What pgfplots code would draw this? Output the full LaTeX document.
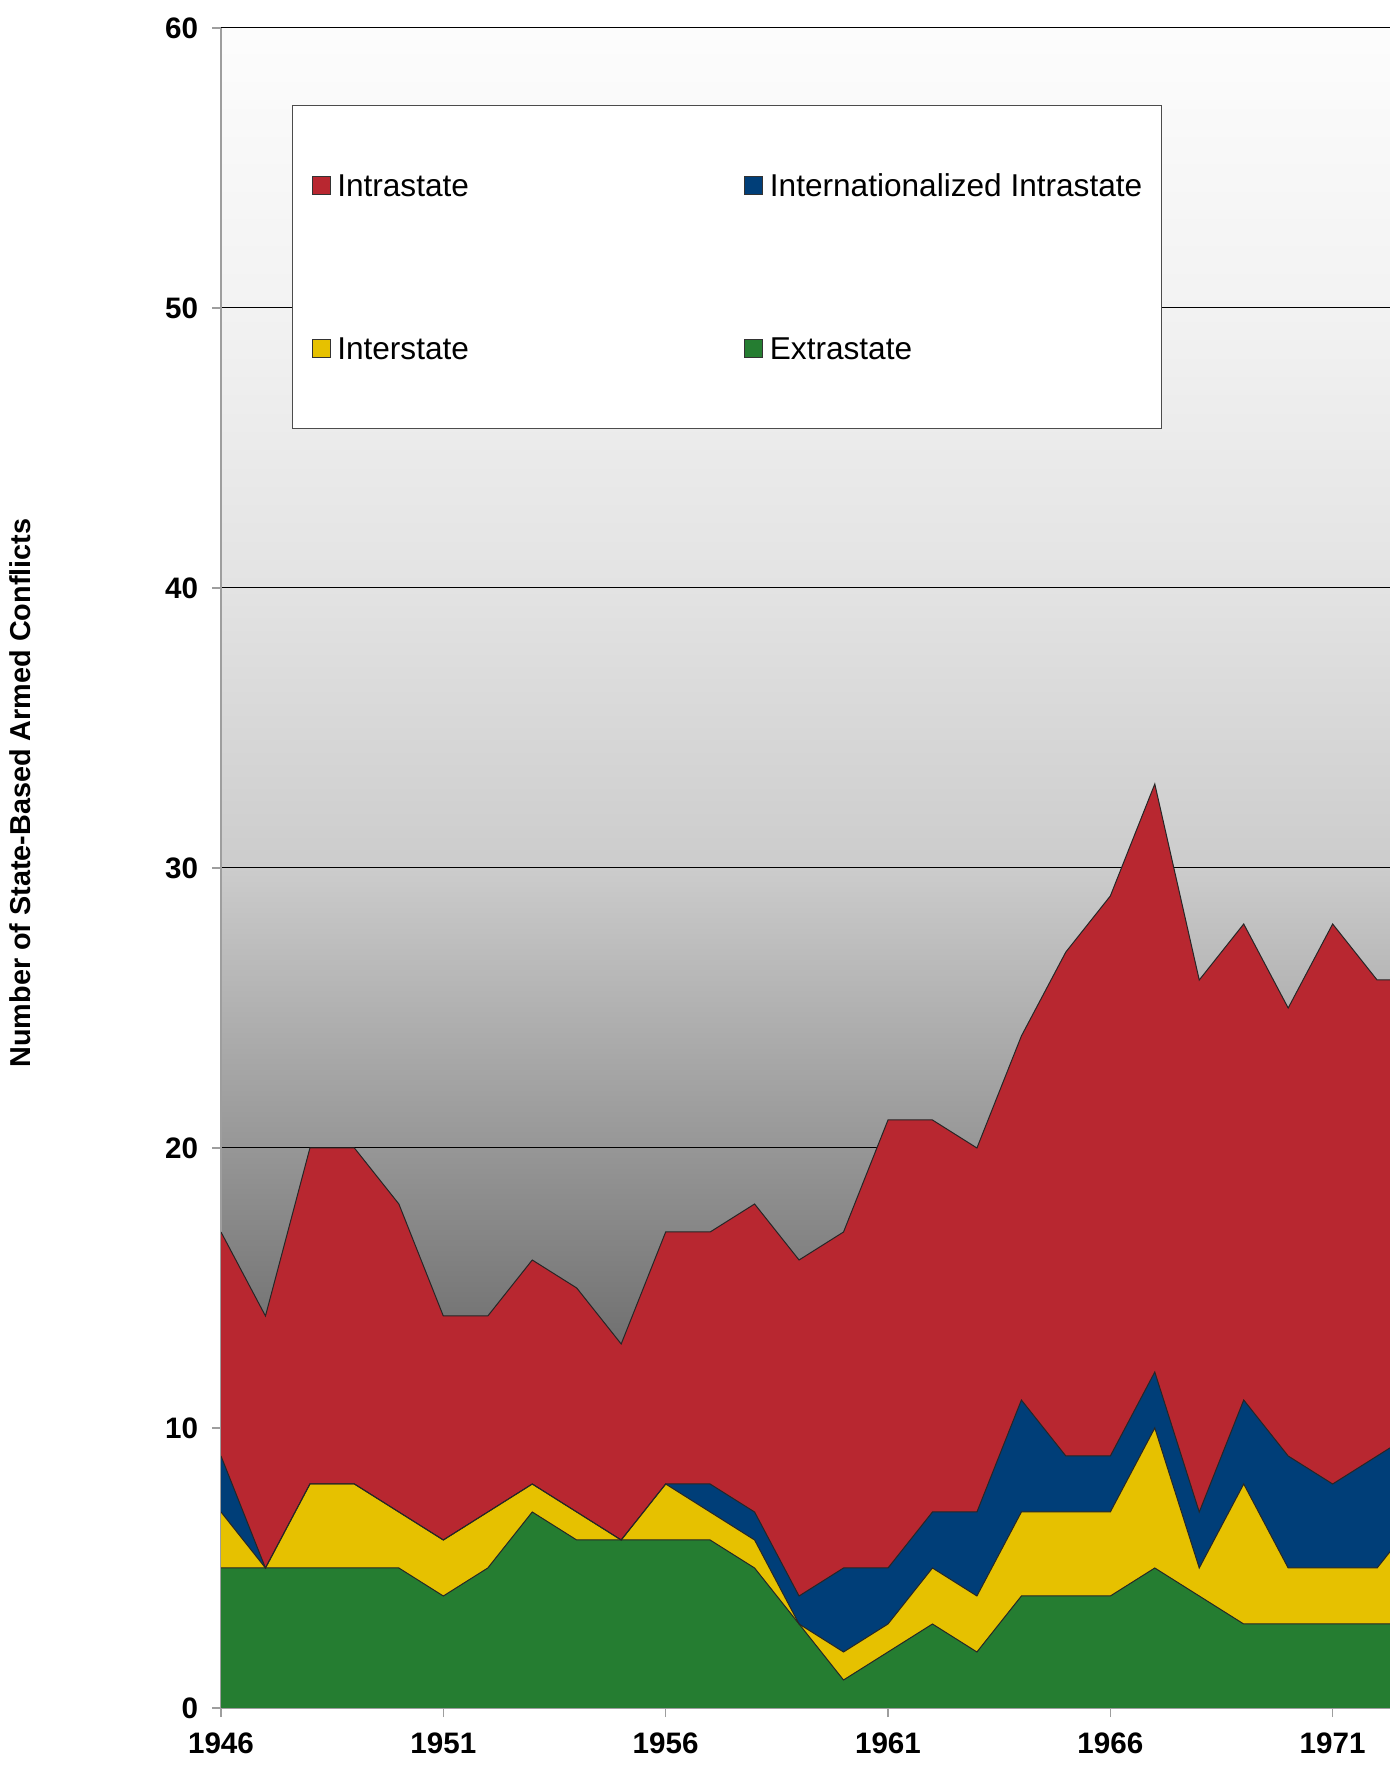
\documentclass[border=0pt]{standalone}
\usepackage{pgfplots}
\pgfplotsset{compat=1.18}
\usepackage{pgfplotstable}
\usepackage{fontspec}
\setmainfont{Liberation Sans}
\definecolor{cIntra}{RGB}{184,39,48}
\definecolor{cIntl}{RGB}{0,62,120}
\definecolor{cInter}{RGB}{230,193,0}
\definecolor{cExtra}{RGB}{37,125,49}
\pgfdeclareverticalshading{bgshade}{100bp}{color(0bp)=(black!70); color(25bp)=(black!70); color(35.83bp)=(black!56); color(41.67bp)=(black!41); color(50bp)=(black!20); color(58.33bp)=(black!11); color(66.67bp)=(black!5); color(75bp)=(black!1); color(100bp)=(black!1)}
\pgfplotsset{layers/mylayers/.define layer set={axis background,axis grid,main,axis ticks,axis lines,axis tick labels,axis descriptions,axis foreground}{}}
% cumulative tops: G = Extrastate, Y = +Interstate, B = +Internationalized, R = +Intrastate (total)
\pgfplotstableread{
year G Y B R
1946 5 7 9 17
1947 5 5 5 14
1948 5 8 8 20
1949 5 8 8 20
1950 5 7 7 18
1951 4 6 6 14
1952 5 7 7 14
1953 7 8 8 16
1954 6 7 7 15
1955 6 6 6 13
1956 6 8 8 17
1957 6 7 8 17
1958 5 6 7 18
1959 3 3 4 16
1960 1 2 5 17
1961 2 3 5 21
1962 3 5 7 21
1963 2 4 7 20
1964 4 7 11 24
1965 4 7 9 27
1966 4 7 9 29
1967 5 10 12 33
1968 4 5 7 26
1969 3 8 11 28
1970 3 5 9 25
1971 3 5 8 28
1972 3 5 9 26
1973 3 7 10 26
}\data
\begin{document}
\begin{tikzpicture}
\begin{axis}[
  at={(0,0)}, anchor=south west,
  width=584.5pt, height=840pt, scale only axis,
  xmin=1946, xmax=1972.29, ymin=0, ymax=60,
  axis lines*=left,
  axis line style={draw=black!38, line width=0.6pt},
  xtick={1946,1951,...,1971}, ytick={0,10,...,60},
  tick align=outside, major tick length=4.5pt,
  tick style={draw=black!38, line width=0.6pt},
  ymajorgrids, grid style={black, line width=0.5pt},
  /pgf/number format/1000 sep={},
  /pgf/number format/assume math mode=true,
  ticklabel style={font=\fontsize{14.8}{17}\selectfont\bfseries},
  yticklabel style={xshift=-3.4pt},
  xticklabel style={yshift=-4.5pt},
  ylabel={Number of State-Based Armed Conflicts},
  ylabel style={font=\fontsize{14.4}{17}\selectfont\bfseries, at={(axis description cs:-0.1719,0.5446)}, anchor=center},
  axis background/.style={shade, shading=bgshade},
  set layers=mylayers,
  legend columns=2,
  legend cell align=left,
  legend image code/.code={\draw[#1,draw=black!80,line width=0.5pt] (0pt,-4.5pt) rectangle (9pt,4.5pt);},
  legend style={at={(0.0607,0.9542)}, anchor=north west, draw=black!70, line width=0.6pt, fill=white,
    inner xsep=9.5pt, inner ysep=32.5pt, row sep=66.5pt, column sep=3.35pt,
    /tikz/every even column/.append style={column sep=137.6pt},
    font=\fontsize{15.8}{19}\selectfont,
    nodes={inner sep=0pt, text height=13.16pt, text depth=1.84pt}},
]
\addplot[fill=cIntra, draw=none, forget plot] table[x=year,y=R] {\data} \closedcycle;
\addplot[fill=cIntl, draw=none, forget plot] table[x=year,y=B] {\data} \closedcycle;
\addplot[fill=cInter, draw=none, forget plot] table[x=year,y=Y] {\data} \closedcycle;
\addplot[fill=cExtra, draw=none, forget plot] table[x=year,y=G] {\data} \closedcycle;
\addplot[black!85, line width=0.5pt, forget plot] table[x=year,y=R] {\data};
\addplot[black!85, line width=0.5pt, forget plot] table[x=year,y=B] {\data};
\addplot[black!85, line width=0.5pt, forget plot] table[x=year,y=Y] {\data};
\addplot[black!85, line width=0.5pt, forget plot] table[x=year,y=G] {\data};
\addlegendimage{fill=cIntra}
\addlegendimage{fill=cIntl}
\addlegendimage{fill=cInter}
\addlegendimage{fill=cExtra}
\legend{Intrastate, Internationalized Intrastate, Interstate, Extrastate}
\end{axis}
\pgfresetboundingbox
\path (-110.5pt,-34pt) rectangle (584.5pt,854pt);
\end{tikzpicture}
\end{document}
